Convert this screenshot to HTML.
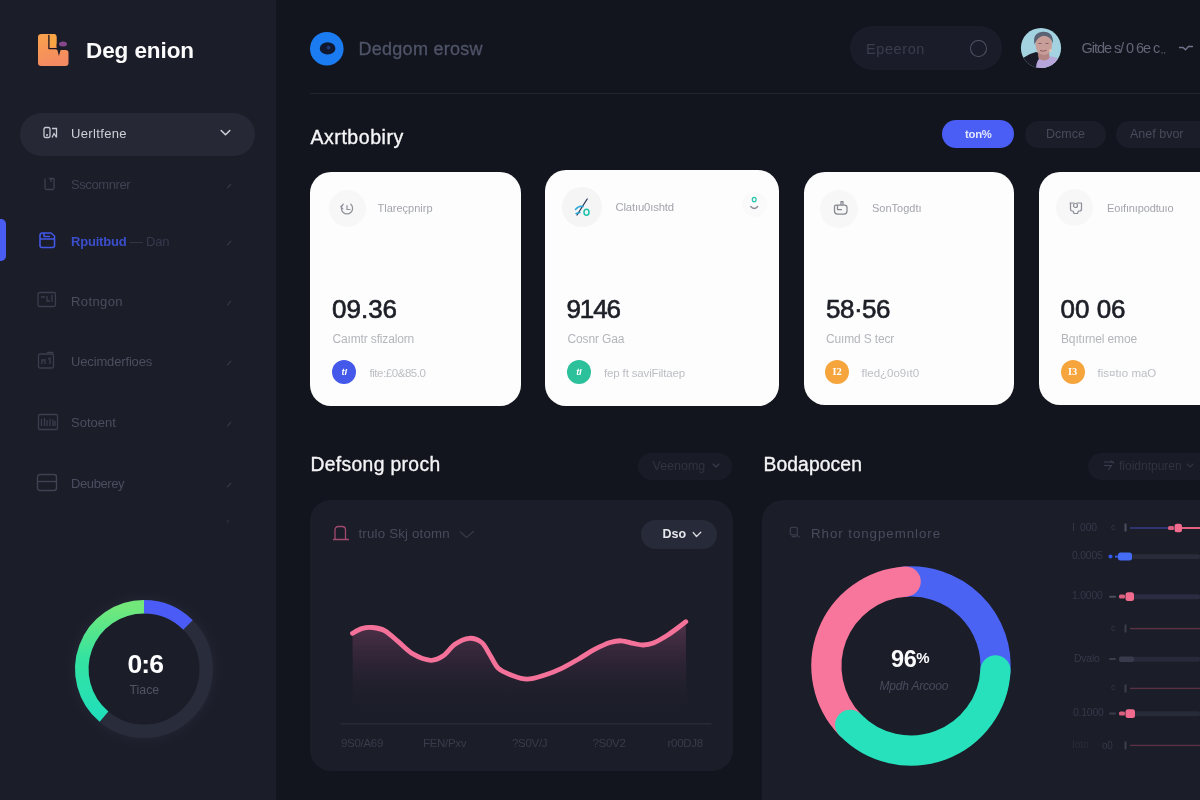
<!DOCTYPE html>
<html lang="en">
<head>
<meta charset="utf-8">
<title>Deg enion</title>
<style>
*{box-sizing:border-box;margin:0;padding:0}
html,body{width:1200px;height:800px;overflow:hidden;background:#13151e;font-family:"Liberation Sans",sans-serif;}
#app{position:relative;width:1200px;height:800px;overflow:hidden;background:#13151e;}
.abs{position:absolute}
.t{position:absolute;white-space:nowrap;line-height:1;}
#side{position:absolute;left:0;top:0;width:276px;height:800px;background:#1b1d29;}
.nav{position:absolute;left:71px;font-size:13px;color:#4a4e5e;white-space:nowrap;line-height:1}
.card{position:absolute;background:#fdfdfd;border-radius:21px;}
.ic{position:absolute;border-radius:50%;background:#f7f7f8;}
.lbl{position:absolute;white-space:nowrap;line-height:1;font-size:11px;color:#a3a5ac;}
.num{position:absolute;white-space:nowrap;line-height:1;font-size:26px;color:#1d1f27;font-weight:normal;letter-spacing:0px;-webkit-text-stroke:0.65px #1d1f27}
.sub{position:absolute;white-space:nowrap;line-height:1;font-size:12px;color:#b4b6bc;letter-spacing:-0.15px}
.bdg{position:absolute;width:24.4px;height:24.4px;border-radius:50%;color:#fff;font-size:9px;font-weight:bold;text-align:center;line-height:24.4px;}
.bl{position:absolute;white-space:nowrap;line-height:1;font-size:11.5px;color:#bcbec4;}
.panel{position:absolute;background:#1b1d28;border-radius:21px;}
.pill{position:absolute;border-radius:22px;}
.ax{font-size:11.5px;color:#383c4b;letter-spacing:-0.3px}
.bx{font-size:10.4px;color:#35394a;letter-spacing:-0.2px}
</style>
</head>
<body>
<div id="app">

<!-- SIDEBAR -->
<div id="side">
  <svg class="abs" style="left:30px;top:26px" width="48" height="48" viewBox="30 26 48 48">
    <defs><linearGradient id="lg" x1="0" y1="0" x2="0.3" y2="1"><stop offset="0" stop-color="#f9a24c"/><stop offset="1" stop-color="#f48a62"/></linearGradient></defs>
    <path d="M41.5 34 H53.6 Q56.6 34 56.6 37 V50 H65.5 Q68.5 50 68.5 53 V63 Q68.5 66 65.5 66 H41.2 Q38 66 38 63 V37 Q38 34 41.5 34Z" fill="url(#lg)"/>
    <rect x="49.4" y="34.3" width="6.9" height="12.9" rx="2.4" fill="#f9a543"/>
    <path d="M48.9 35.5 V48.6 H57.6" fill="none" stroke="#1b1420" stroke-width="1.3" stroke-linejoin="round" stroke-linecap="round"/>
    <path d="M56.6 44 H62 V50 H60.6 L58.9 56 L57.3 49.6Z" fill="#1b1d29"/>
    <ellipse cx="63" cy="43.9" rx="4" ry="2.5" fill="#86488a"/>
  </svg>
  <div class="t" id="brand" style="left:86px;top:40px;font-size:22.5px;font-weight:bold;color:#fbfbfc;letter-spacing:-0.08px">Deg enion</div>

  <div class="pill" style="left:20px;top:112.5px;width:234.5px;height:43px;background:#262935;"></div>
  <svg class="abs" style="left:43px;top:126px" width="16" height="14" viewBox="0 0 16 14" fill="none" stroke="#c8cad2" stroke-width="1.3"><rect x="1" y="1.5" width="6" height="10" rx="1.5"/><path d="M9 2.5h4.5v9M9 11.5l2-4 2.5 4M3 9h2"/></svg>
  <div class="nav" id="n1" style="top:127px;color:#ced0d7;letter-spacing:0.35px">Uerltfene</div>
  <svg class="abs" style="left:219.5px;top:129px" width="11" height="8" viewBox="0 0 11 8" fill="none" stroke="#d0d2d8" stroke-width="1.5" stroke-linecap="round" stroke-linejoin="round"><path d="M1.2 1.5l4.3 4.3 4.3-4.3"/></svg>

  <svg class="abs" style="left:43px;top:176px" width="14" height="15" viewBox="0 0 14 15" fill="none" stroke="#3c404f" stroke-width="1.3"><path d="M2 2.5v9.5q0 1.5 1.5 1.5h6q1.5 0 1.5-1.5V2M6 2.5h4.5M8 2v4"/></svg>
  <div class="nav" id="n2" style="top:178px;color:#3f4352;letter-spacing:-0.4px">Sscomnrer</div>
  <svg class="abs" style="left:225.500px;top:181.5px" width="7" height="8" viewBox="0 0 7 8"><path d="M1.500 5.800L4.800 2.200" stroke="#363a49" stroke-width="1.200" stroke-linecap="round"/></svg>

  <div class="abs" style="left:0;top:219px;width:5.5px;height:42px;background:#4a5df2;border-radius:0 5px 5px 0"></div>
  <svg class="abs" style="left:38px;top:231px" width="19" height="18" viewBox="0 0 19 18" fill="none" stroke="#4257e6" stroke-width="1.6" stroke-linejoin="round"><path d="M2 4.5q0-2.5 2.5-2.5h8.5l3.5 3v9.5q0 2-2 2H4q-2 0-2-2zM2 8h14.5M6 2v3.5h6"/></svg>
  <div class="nav" id="n3" style="top:235px;color:#3b4ecb;font-weight:bold;letter-spacing:-0.2px">Rpuitbud <span style="color:#353a4c;font-weight:normal">— Dan</span></div>
  <svg class="abs" style="left:225.500px;top:238.5px" width="7" height="8" viewBox="0 0 7 8"><path d="M1.500 5.800L4.800 2.200" stroke="#363a49" stroke-width="1.200" stroke-linecap="round"/></svg>

  <svg class="abs" style="left:37px;top:291px" width="20" height="17" viewBox="0 0 20 17" fill="none" stroke="#3a3e4d" stroke-width="1.3"><rect x="1" y="1.5" width="17.5" height="14" rx="1.5"/><path d="M4 6h4M10 5v5h3M15 4v7"/></svg>
  <div class="nav" id="n4" style="top:295px;letter-spacing:0.4px">Rotngon</div>
  <svg class="abs" style="left:225.500px;top:298.5px" width="7" height="8" viewBox="0 0 7 8"><path d="M1.500 5.800L4.800 2.200" stroke="#363a49" stroke-width="1.200" stroke-linecap="round"/></svg>

  <svg class="abs" style="left:37px;top:351px" width="19" height="19" viewBox="0 0 19 19" fill="none" stroke="#3a3e4d" stroke-width="1.3"><rect x="1.5" y="3" width="15" height="14" rx="1.5"/><path d="M10 1.5h6.5M5 13V9h3v4M11 8l2-1v6"/></svg>
  <div class="nav" id="n5" style="top:355px;letter-spacing:-0.15px">Uecimderfioes</div>
  <svg class="abs" style="left:225.500px;top:358.5px" width="7" height="8" viewBox="0 0 7 8"><path d="M1.500 5.800L4.800 2.200" stroke="#363a49" stroke-width="1.200" stroke-linecap="round"/></svg>

  <svg class="abs" style="left:37px;top:413px" width="22" height="18" viewBox="0 0 22 18" fill="none" stroke="#3a3e4d" stroke-width="1.3"><rect x="1.5" y="1.5" width="19" height="15" rx="1"/><path d="M4.5 13V6M7.5 13V5M10 13V7M13 13V6M16 13V6.5M18 13V8"/></svg>
  <div class="nav" id="n6" style="top:416px">Sotoent</div>
  <svg class="abs" style="left:225.500px;top:419.5px" width="7" height="8" viewBox="0 0 7 8"><path d="M1.500 5.800L4.800 2.200" stroke="#363a49" stroke-width="1.200" stroke-linecap="round"/></svg>

  <svg class="abs" style="left:36px;top:473px" width="22" height="19" viewBox="0 0 22 19" fill="none" stroke="#3f4352" stroke-width="1.4"><rect x="1.5" y="1.5" width="19" height="16" rx="2.5"/><path d="M1.5 8.5h19"/></svg>
  <div class="nav" id="n7" style="top:477px;letter-spacing:-0.4px">Deuberey</div>
  <svg class="abs" style="left:225.500px;top:480.5px" width="7" height="8" viewBox="0 0 7 8"><path d="M1.500 5.800L4.800 2.200" stroke="#363a49" stroke-width="1.200" stroke-linecap="round"/></svg>
  <svg class="abs" style="left:225px;top:518px" width="6" height="6" viewBox="0 0 6 6"><path d="M2 4L3.500 2.500" stroke="#2c3040" stroke-width="1.200" stroke-linecap="round"/></svg>

  <!-- gauge -->
  <svg class="abs" style="left:54px;top:578.8px" width="180" height="180" viewBox="-90 -90 180 180">
    <defs>
      <linearGradient id="gg" x1="0" y1="-62" x2="0" y2="50" gradientUnits="userSpaceOnUse"><stop offset="0" stop-color="#73e87a"/><stop offset="0.45" stop-color="#35e3a0"/><stop offset="1" stop-color="#20debb"/></linearGradient>
      <radialGradient id="halo" cx="0" cy="0" r="82" gradientUnits="userSpaceOnUse"><stop offset="0" stop-color="#242735" stop-opacity="0"/><stop offset="0.8" stop-color="#242735" stop-opacity="0"/><stop offset="0.84" stop-color="#242735" stop-opacity="0.55"/><stop offset="1" stop-color="#1b1d29" stop-opacity="0"/></radialGradient>
    </defs>
    <circle r="82" fill="url(#halo)"/>
    <circle r="62.2" fill="none" stroke="#292c3a" stroke-width="13.5"/>
    <path d="M-39.98 47.65A62.2 62.2 0 0 1 0.54 -62.20" fill="none" stroke="url(#gg)" stroke-width="13.5"/>
    <path d="M0.00 -62.20A62.2 62.2 0 0 1 43.98 -43.98" fill="none" stroke="#4a5cf5" stroke-width="13.5"/>
  </svg>
  <div class="t" id="gnum" style="left:127.5px;top:650.5px;font-size:26.5px;font-weight:bold;color:#fff;letter-spacing:-0.9px">0:6</div>
  <div class="t" id="gsub" style="left:129.5px;top:684px;font-size:12.3px;color:#505464">Tiace</div>
</div>

<!-- HEADER -->
<svg class="abs" style="left:308px;top:30px" width="38" height="38" viewBox="308 30 38 38">
  <circle cx="326.8" cy="48.7" r="16.8" fill="#1b7cf2"/>
  <ellipse cx="327.6" cy="48.4" rx="7.8" ry="6.2" fill="#10182f"/>
  <circle cx="328.6" cy="47.6" r="1.9" fill="#1d3b78"/>
</svg>
<div class="t" id="htitle" style="left:358.5px;top:40px;font-size:18px;color:#4f5468;letter-spacing:0.27px;-webkit-text-stroke:0.3px #4f5468">Dedgom erosw</div>

<div class="pill" style="left:850px;top:26px;width:152px;height:44px;background:#1a1d29;"></div>
<div class="t" id="srch" style="left:866px;top:41.5px;font-size:14.5px;color:#393d4c;letter-spacing:0.6px">Epeeron</div>
<div class="abs" style="left:969.5px;top:39.5px;width:17px;height:17.5px;border-radius:50%;border:1.3px solid #4e5262"></div>

<svg class="abs" style="left:1020px;top:27px" width="42" height="42" viewBox="-21 -21 42 42">
  <defs><clipPath id="avc"><circle r="20.1"/></clipPath></defs>
  <g clip-path="url(#avc)">
    <rect x="-21" y="-21" width="42" height="42" fill="#a3d3e0"/>
    <path d="M-21 21 L-18 10 Q-12 5.500 -5 4 L-2 5 L0 21Z" fill="#181a27"/>
    <path d="M-5 21 Q-5 12 0 9.500 Q9 7 16 10 Q20 13 21 21Z" fill="#b7a6da"/>
    <path d="M-3.500 2 L8 3 L8.500 10 Q4 14.500 -2.500 10.500Z" fill="#b38682"/>
    <ellipse cx="2.800" cy="-3.500" rx="8.300" ry="10.500" fill="#c89e98"/>
    <path d="M-6.500 -3.500 Q-9 -15 1.500 -16.300 Q12.500 -17 12 -4.500 Q10 -11.500 3 -12.300 Q-3.500 -11.500 -6.500 -3.500Z" fill="#5b6274"/>
    <path d="M-2.500 -4.500h3M4.500 -4.500h3" stroke="#7a5a60" stroke-width="0.900" fill="none"/>
    <path d="M-1 2.500 Q2.500 4 5.500 2.300" stroke="#8d5b62" stroke-width="1" fill="none"/>
    <circle cx="9.500" cy="2.500" r="1.300" fill="#e8c9b5"/>
  </g>
</svg>
<div class="t" id="uname" style="left:1081.5px;top:41px;font-size:14.5px;color:#626676;letter-spacing:-1.05px">Gitde s/ 0 6e c<span style="font-size:9px"> , ,</span></div>
<svg class="abs" style="left:1178px;top:43px" width="16" height="10" viewBox="0 0 16 10" fill="none" stroke="#70748a" stroke-width="1.3" stroke-linecap="round"><path d="M1.5 4.5h3.5l2.5 2.3 3-3.3h4"/></svg>

<div class="abs" style="left:310px;top:93px;width:890px;height:1.3px;background:#212431"></div>

<div class="t" id="h1" style="left:310.5px;top:127.5px;font-size:19.5px;color:#f6f6f8;letter-spacing:0.55px;-webkit-text-stroke:0.35px #f6f6f8">Axrtbobiry</div>

<div class="pill" style="left:941.5px;top:120.2px;width:72.8px;height:27.8px;background:#4a5df5;"></div>
<div class="t" id="p1" style="left:965px;top:128.5px;font-size:11.3px;font-weight:bold;color:#e3e6ff;letter-spacing:-0.25px">ton%</div>
<div class="pill" style="left:1025px;top:120.5px;width:80.5px;height:27.5px;background:#1b1d29;"></div>
<div class="t" id="p2" style="left:1046px;top:128px;font-size:12.5px;color:#474b5a;">Dcmce</div>
<div class="pill" style="left:1115.5px;top:120.5px;width:100px;height:27.5px;background:#1b1d29;"></div>
<div class="t" id="p3" style="left:1130px;top:128px;font-size:12.5px;color:#474b5a;">Anef bvor</div>

<!-- CARDS -->
<div class="card" style="left:310px;top:172px;width:210.6px;height:233.6px"></div>
<div class="card" style="left:544.6px;top:169.6px;width:234.7px;height:236.6px"></div>
<div class="card" style="left:803.6px;top:172px;width:210.4px;height:233px"></div>
<div class="card" style="left:1038.6px;top:172.4px;width:190px;height:232.4px"></div>

<!-- card 1 -->
<div class="ic" style="left:328.5px;top:189.5px;width:37px;height:37px"></div>
<svg class="abs" style="left:339px;top:200.5px" width="16" height="16" viewBox="0 0 16 16" fill="none" stroke="#8f929b" stroke-width="1.2" stroke-linecap="round"><path d="M4.2 3.2A5.6 5.6 0 1 0 11.8 3.2M4.2 3.2l-2.4 2.6 2 2M8 4.5v4h3"/></svg>
<div class="lbl" id="c1l" style="left:377.5px;top:203px">Tlareçpnirp</div>
<div class="num" id="c1n" style="left:332px;top:296px">09.36</div>
<div class="sub" id="c1s" style="left:332.5px;top:332.5px">Caımtr sfizalorn</div>
<div class="bdg" style="left:332px;top:360px;background:#4458ea"><i>tI</i></div>
<div class="bl" id="c1b" style="left:369.5px;top:367.5px;letter-spacing:-0.45px">fite:£0&amp;85.0</div>

<!-- card 2 -->
<div class="ic" style="left:562px;top:187px;width:40px;height:40px;background:#f5f5f6"></div>
<svg class="abs" style="left:572px;top:196px" width="20" height="22" viewBox="0 0 20 22" fill="none" stroke-linecap="round"><path d="M15.2 3L5 19" stroke="#2b3a5c" stroke-width="1.300"/><path d="M3.5 13.5q3-4 7.5-3" stroke="#2aa7d8" stroke-width="1.5"/><ellipse cx="14.5" cy="16.3" rx="2.5" ry="3" stroke="#19c2a8" stroke-width="1.5"/><path d="M4 17.5l4-1" stroke="#2aa7d8" stroke-width="1.3"/></svg>
<div class="lbl" id="c2l" style="left:615.5px;top:202px;font-size:11.3px;letter-spacing:-0.15px">Clatıu0ıshtd</div>
<div class="ic" style="left:742px;top:191.5px;width:25px;height:25px;background:#fafafb"></div>
<svg class="abs" style="left:748px;top:194px" width="12" height="20" viewBox="0 0 12 20" fill="none" stroke-linecap="round"><ellipse cx="6.2" cy="5.6" rx="1.9" ry="2.3" stroke="#27c7ae" stroke-width="1.3"/><path d="M2.8 12.5q3.4 4 6.8 0" stroke="#8e9199" stroke-width="1.5"/></svg>
<div class="num" id="c2n" style="left:566.5px;top:296px;letter-spacing:-1.1px">9146</div>
<div class="sub" id="c2s" style="left:567.5px;top:332.5px">Cosnr Gaa</div>
<div class="bdg" style="left:566.7px;top:360px;background:#2cc09b"><i>tI</i></div>
<div class="bl" id="c2b" style="left:604px;top:367.5px;letter-spacing:-0.15px">fep ft saviFiltaep</div>

<!-- card 3 -->
<div class="ic" style="left:820px;top:189.5px;width:38px;height:38px"></div>
<svg class="abs" style="left:832px;top:199px" width="18" height="17" viewBox="0 0 18 17" fill="none" stroke="#85888f" stroke-width="1.25" stroke-linecap="round" stroke-linejoin="round"><path d="M4 6h8.5q2.5 0 2.5 2.5v3.5q0 3-3 3H5.5q-3 0-3-3V7.5Q2.500 6 4 6zM9 6V2.500h2V6M5.5 6v4.500h4"/></svg>
<div class="lbl" id="c3l" style="left:872px;top:203px">SonTogdtı</div>
<div class="num" id="c3n" style="left:826px;top:296px;letter-spacing:-0.5px">58·56</div>
<div class="sub" id="c3s" style="left:826px;top:332.5px">Cuımd S tecr</div>
<div class="bdg" style="left:825px;top:360px;background:#f6a43c;font-family:'Liberation Serif',serif;font-size:10.5px">I2</div>
<div class="bl" id="c3b" style="left:861.5px;top:367.5px">fled¿0o9ıt0</div>

<!-- card 4 -->
<div class="ic" style="left:1055.5px;top:188.5px;width:37px;height:37px"></div>
<svg class="abs" style="left:1067px;top:200px" width="17" height="16" viewBox="0 0 17 16" fill="none" stroke="#8a8d95" stroke-width="1.2" stroke-linecap="round" stroke-linejoin="round"><path d="M3 3h4M10 3h4.500v6q0 2-2 2h-1l-1 2.500h-3.500l-1-2.500h-1q-1.500 0-1.500-2V3"/><circle cx="8.500" cy="5.500" r="2"/></svg>
<div class="lbl" id="c4l" style="left:1107px;top:203px;font-size:11px;letter-spacing:-0.15px">Eoıfınıpodtuıo</div>
<div class="num" id="c4n" style="left:1060.5px;top:296px">00 06</div>
<div class="sub" id="c4s" style="left:1061px;top:332.5px">Bqıtırnel emoe</div>
<div class="bdg" style="left:1060.5px;top:360px;background:#f6a43c;font-family:'Liberation Serif',serif;font-size:10.5px">I3</div>
<div class="bl" id="c4b" style="left:1097.500px;top:367.5px">fis¤tıo maO</div>

<!-- SECTION 2 -->
<div class="t" id="h2" style="left:310.5px;top:455px;font-size:19.3px;color:#f4f4f6;-webkit-text-stroke:0.35px #f4f4f6;letter-spacing:0.35px">Defsong proch</div>
<div class="pill" style="left:638px;top:452.5px;width:94px;height:27.5px;background:#191b27;"></div>
<div class="t" id="dd1" style="left:652.5px;top:460px;font-size:12.500px;color:#30343f;">Veenomg</div>
<svg class="abs" style="left:712px;top:463px" width="8" height="6" viewBox="0 0 8 6" fill="none" stroke="#3a3e4e" stroke-width="1.1" stroke-linecap="round"><path d="M1 1l3 3 3-3"/></svg>

<div class="panel" style="left:310px;top:500px;width:423.200px;height:270.500px"></div>
<svg class="abs" style="left:332px;top:524px" width="18" height="18" viewBox="0 0 18 18" fill="none" stroke="#a04a6e" stroke-width="1.3" stroke-linecap="round"><path d="M3 15.500V6q0-3.500 3.500-3.500h3.500q3.500 0 3.500 3.500v9.500M1.500 15.500h15"/></svg>
<div class="t" id="cl1" style="left:358.500px;top:527.3px;font-size:13.300px;color:#474b5c;letter-spacing:0.18px">trulo Skj otomn</div>
<svg class="abs" style="left:459px;top:530px" width="16" height="10" viewBox="0 0 16 10" fill="none" stroke="#363a49" stroke-width="1.3" stroke-linecap="round"><path d="M1.500 2l6 5.500 7-6"/></svg>
<div class="pill" style="left:641px;top:520px;width:76px;height:28.700px;background:#272a38;"></div>
<div class="t" id="dso" style="left:662.500px;top:527.8px;font-size:12.500px;font-weight:bold;color:#e6e7ec;">Dso</div>
<svg class="abs" style="left:691.500px;top:530.500px" width="10" height="8" viewBox="0 0 10 8" fill="none" stroke="#d4d6dc" stroke-width="1.300" stroke-linecap="round" stroke-linejoin="round"><path d="M1.200 1.500l3.300 4 4.300-4.300"/></svg>

<svg class="abs" style="left:310px;top:500px" width="424" height="272" viewBox="310 500 424 272">
  <defs>
    <linearGradient id="af" x1="0" y1="622" x2="0" y2="712" gradientUnits="userSpaceOnUse"><stop offset="0" stop-color="#74405f" stop-opacity="0.62"/><stop offset="0.5" stop-color="#4e304d" stop-opacity="0.3"/><stop offset="1" stop-color="#2a2233" stop-opacity="0"/></linearGradient>
  </defs>
  <path d="M352.5 633.3C354.0 632.5 358.4 629.6 361.7 628.6C365.0 627.6 368.6 627.1 372.5 627.5C376.4 627.9 380.7 628.4 385.0 630.8C389.3 633.2 393.6 637.8 398.3 641.7C403.0 645.6 407.9 651.1 413.3 654.2C418.7 657.3 425.8 660.0 430.8 660.3C435.8 660.6 439.3 658.5 443.3 655.8C447.3 653.1 450.7 647.1 455.0 644.2C459.3 641.3 464.8 638.6 469.2 638.3C473.6 638.0 478.2 639.7 481.7 642.5C485.2 645.3 487.2 650.7 490.0 655.0C492.8 659.3 494.7 664.9 498.3 668.3C501.9 671.7 506.9 673.5 511.7 675.3C516.5 677.1 521.5 679.2 527.0 679.2C532.5 679.2 539.2 676.8 545.0 675.0C550.8 673.2 556.2 670.9 561.7 668.3C567.2 665.7 572.8 662.4 578.3 659.2C583.8 656.0 589.7 652.0 595.0 649.2C600.3 646.4 605.5 643.9 610.0 642.5C614.5 641.1 617.8 640.6 621.7 640.8C625.6 640.9 629.7 642.7 633.3 643.4C636.9 644.1 640.0 645.1 643.3 645.0C646.6 644.9 649.4 644.5 653.3 643.0C657.2 641.5 662.5 638.4 666.7 635.8C670.9 633.2 675.1 629.9 678.3 627.5C681.5 625.1 684.5 622.7 685.8 621.7L686.5 722L353 722Z" fill="url(#af)"/>
  <path d="M352.5 633.3C354.0 632.5 358.4 629.6 361.7 628.6C365.0 627.6 368.6 627.1 372.5 627.5C376.4 627.9 380.7 628.4 385.0 630.8C389.3 633.2 393.6 637.8 398.3 641.7C403.0 645.6 407.9 651.1 413.3 654.2C418.7 657.3 425.8 660.0 430.8 660.3C435.8 660.6 439.3 658.5 443.3 655.8C447.3 653.1 450.7 647.1 455.0 644.2C459.3 641.3 464.8 638.6 469.2 638.3C473.6 638.0 478.2 639.7 481.7 642.5C485.2 645.3 487.2 650.7 490.0 655.0C492.8 659.3 494.7 664.9 498.3 668.3C501.9 671.7 506.9 673.5 511.7 675.3C516.5 677.1 521.5 679.2 527.0 679.2C532.5 679.2 539.2 676.8 545.0 675.0C550.8 673.2 556.2 670.9 561.7 668.3C567.2 665.7 572.8 662.4 578.3 659.2C583.8 656.0 589.7 652.0 595.0 649.2C600.3 646.4 605.5 643.9 610.0 642.5C614.5 641.1 617.8 640.6 621.7 640.8C625.6 640.9 629.7 642.7 633.3 643.4C636.9 644.1 640.0 645.1 643.3 645.0C646.6 644.9 649.4 644.5 653.3 643.0C657.2 641.5 662.5 638.4 666.7 635.8C670.9 633.2 675.1 629.9 678.3 627.5C681.5 625.1 684.5 622.7 685.8 621.7" fill="none" stroke="#f4719a" stroke-width="4.800" stroke-linecap="round" stroke-linejoin="round"/>
  <rect x="340.500" y="723.200" width="371" height="1.200" fill="#2b2e3c"/>
</svg>
<div class="t ax" id="ax1" style="left:341px;top:737.5px">9S0/A69</div>
<div class="t ax" id="ax2" style="left:423px;top:737.5px">FEN/Pxv</div>
<div class="t ax" id="ax3" style="left:512px;top:737.5px">?S0V/J</div>
<div class="t ax" id="ax4" style="left:592.500px;top:737.5px">?S0V2</div>
<div class="t ax" id="ax5" style="left:667.500px;top:737.5px">r00DJ8</div>

<!-- SECTION 3 -->
<div class="t" id="h3" style="left:763.5px;top:455px;font-size:19.3px;color:#f4f4f6;-webkit-text-stroke:0.35px #f4f4f6;letter-spacing:0.1px">Bodapocen</div>
<div class="pill" style="left:1088px;top:452.5px;width:130px;height:27.5px;background:#191b27;"></div>
<svg class="abs" style="left:1103px;top:459px" width="13" height="13" viewBox="0 0 13 13" fill="none" stroke="#3a3e4e" stroke-width="1.100" stroke-linecap="round"><path d="M1.500 3h9M1.500 6.500h7l-3 4M8 2l2.500 2"/></svg>
<div class="t" id="dd2" style="left:1119px;top:460px;font-size:12px;color:#30343f;">fioidntpuren</div>
<svg class="abs" style="left:1186px;top:463px" width="8" height="6" viewBox="0 0 8 6" fill="none" stroke="#30343f" stroke-width="1.100" stroke-linecap="round"><path d="M1 1l3 3 3-3"/></svg>

<div class="panel" style="left:762.200px;top:500px;width:470px;height:330px"></div>
<svg class="abs" style="left:788px;top:525px" width="13" height="14" viewBox="0 0 14 15" fill="none" stroke="#383c4b" stroke-width="1.400" stroke-linecap="round"><rect x="2.500" y="2.500" width="7.500" height="8" rx="1.500"/><path d="M9 10.500l3 2.500M4.500 12.500h4"/></svg>
<div class="t" id="cl2" style="left:811px;top:527.3px;font-size:13.300px;color:#484c5e;letter-spacing:0.95px">Rhor tongpemnlore</div>

<svg class="abs" style="left:801px;top:556px" width="220" height="220" viewBox="-110 -110 220 220">
  <path d="M-8.84 -84.14A84.6 84.6 0 0 1 84.28 7.37" fill="none" stroke="#4b63f3" stroke-width="30.200"/>
  <path d="M-60.86 58.77A84.6 84.6 0 0 1 -5.31 -84.43" fill="none" stroke="#f8769b" stroke-width="30.200" stroke-linecap="round"/>
  <path d="M84.48 4.43A84.6 84.6 0 0 1 -60.86 58.77" fill="none" stroke="#27e1bd" stroke-width="30.200" stroke-linecap="round"/>
</svg>
<div class="t" id="dnum" style="left:891px;top:647.5px;font-size:23.500px;font-weight:bold;color:#fafafc;letter-spacing:-0.4px">96<span style="font-size:15px;position:relative;top:-3.500px;letter-spacing:-0.5px">%</span></div>
<div class="t" id="dsub" style="left:879.500px;top:679.5px;font-size:12px;font-style:italic;color:#474b5c;letter-spacing:-0.2px">Mpdh Arcooo</div>

<!-- bars -->
<svg class="abs" style="left:1050px;top:510px" width="150" height="260" viewBox="1050 510 150 260">
  <g>
    <!-- row1 -->
    <rect x="1130" y="527.300" width="38" height="1.400" fill="#3a3f8c"/>
    <rect x="1182" y="527" width="18" height="2" fill="#e5607f"/>
    <rect x="1168" y="526" width="6" height="4" rx="1.500" fill="#d9607e"/>
    <rect x="1174.500" y="523.800" width="7.500" height="8.400" rx="2.500" fill="#f26b8f"/>
    <rect x="1124.500" y="523.500" width="2" height="8" fill="#4a4e5e"/>
    <!-- row2 -->
    <rect x="1130" y="554.300" width="70" height="4.600" rx="2" fill="#282b39"/>
    <circle cx="1110.500" cy="556.600" r="2" fill="#3658e8"/>
    <rect x="1115" y="555.600" width="5" height="2" fill="#3658e8"/>
    <rect x="1118" y="552.600" width="14" height="8" rx="2.500" fill="#456cf5"/>
    <!-- row3 -->
    <rect x="1132" y="594.200" width="68" height="5" rx="2" fill="#2a2d41"/>
    <rect x="1109" y="595.700" width="7" height="2" rx="1" fill="#4a4e5e"/>
    <rect x="1119" y="594.600" width="6" height="4" rx="1.500" fill="#d9607e"/>
    <rect x="1125.500" y="592.300" width="8.500" height="8.600" rx="2.500" fill="#f26b8f"/>
    <!-- row4 -->
    <rect x="1130" y="627.900" width="70" height="1.400" fill="#5e3245"/>
    <rect x="1124.500" y="624.500" width="2" height="8" fill="#3a3e4d"/>
    <!-- row5 -->
    <rect x="1132" y="656.700" width="68" height="5" rx="2" fill="#272a38"/>
    <rect x="1109" y="658" width="7" height="2" rx="1" fill="#3a3d4d"/>
    <rect x="1119" y="656.500" width="15" height="5.500" rx="2" fill="#383b4c"/>
    <!-- row6 -->
    <rect x="1130" y="687.700" width="70" height="1.400" fill="#5a3144"/>
    <rect x="1124.500" y="684.500" width="2" height="8" fill="#3a3e4d"/>
    <!-- row7 -->
    <rect x="1134" y="711.200" width="66" height="5" rx="2" fill="#272a38"/>
    <rect x="1109" y="712.600" width="7" height="2" rx="1" fill="#3a3d4d"/>
    <rect x="1119" y="711.500" width="6" height="4" rx="1.500" fill="#d9607e"/>
    <rect x="1125.500" y="709.300" width="9.500" height="8.600" rx="2.500" fill="#f26b8f"/>
    <!-- row8 -->
    <rect x="1130" y="744.700" width="70" height="1.400" fill="#5a3144"/>
    <rect x="1124.500" y="741.500" width="2" height="8" fill="#3a3e4d"/>
  </g>
</svg>
<div class="t bx" style="left:1072px;top:522.5px">I&nbsp; 000</div>
<div class="t bx" style="left:1111px;top:523px;font-size:9px">c</div>
<div class="t bx" style="left:1072px;top:551px">0.0005</div>
<div class="t bx" style="left:1072px;top:591px;color:#33374a">1.0000</div>
<div class="t bx" style="left:1111px;top:623.5px;font-size:9px;color:#343848">c</div>
<div class="t bx" style="left:1074px;top:653.5px">Dvalo</div>
<div class="t bx" style="left:1111px;top:683px;font-size:9px;color:#343848">c</div>
<div class="t bx" style="left:1073px;top:708px">0.1000</div>
<div class="t bx" style="left:1072px;top:740px;color:#282c3a">Ioto</div>
<div class="t bx" style="left:1102px;top:740.500px;font-size:10px;color:#343848">o0</div>


</div>
</body>
</html>
